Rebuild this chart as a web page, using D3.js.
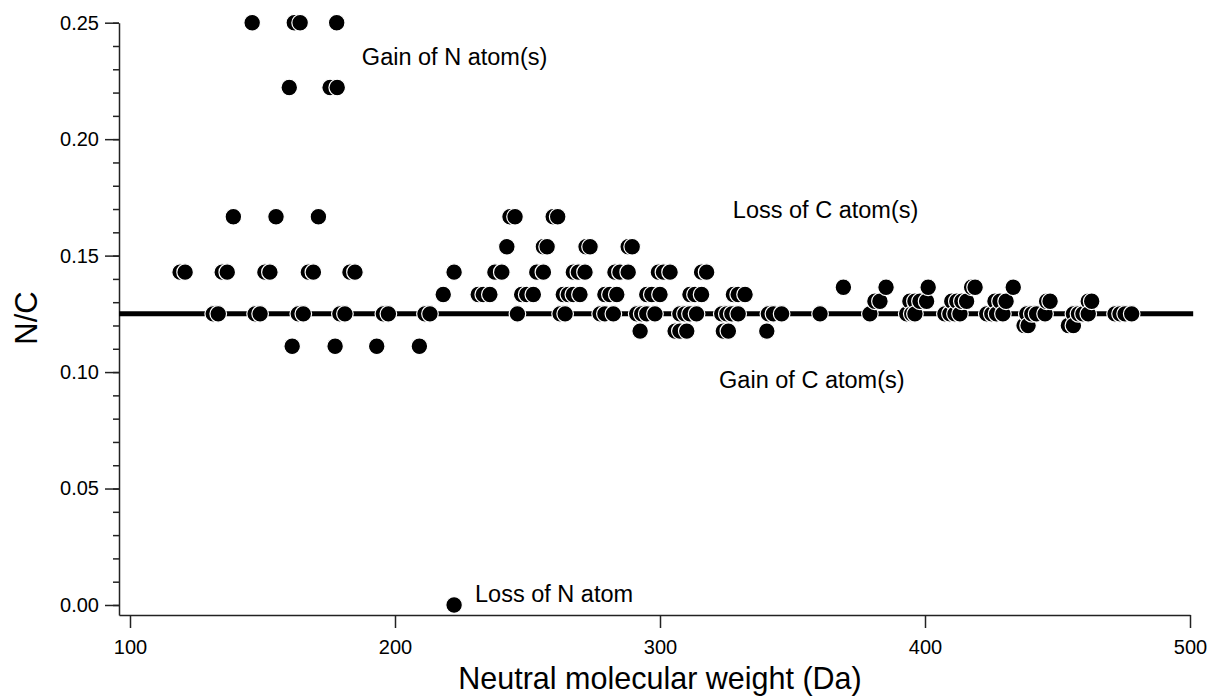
<!DOCTYPE html>
<html>
<head>
<meta charset="utf-8">
<script src="https://cdn.jsdelivr.net/npm/d3@7"></script>
<style>
  body { margin: 0; background: #fff; }
  svg text { font-family: "Liberation Sans", Arial, sans-serif; fill: #000; }
</style>
</head>
<body>
<svg id="chart"></svg>
<script>
// neutral molecular weights (Da), grouped by N/C ratio
const nc = [0.25, 0.2222, 0.1667, 0.1538, 0.1429, 0.1364, 0.1333, 0.1304, 0.125, 0.12, 0.1176, 0.1111, 0];

const mw_0250 = [146.1, 162.0, 164.2, 178.0];
const mw_0222 = [160.1, 175.5, 178.2];
const mw_0167 = [139.0, 155.1, 171.1, 243.4, 245.3, 259.7, 261.4];
const mw_0154 = [242.2, 256.0, 257.4, 272.1, 273.6, 288.0, 289.5];
const mw_0143 = [118.9, 120.8, 134.8, 136.7, 150.9, 152.8, 167.3, 169.2, 183.0, 184.9, 222.3, 237.7, 240.3,
  253.5, 256.0, 267.3, 269.2, 271.7, 283.0, 284.9, 288.0, 299.4, 301.3, 303.8, 315.7, 317.6];
const mw_0136 = [369.2, 385.3, 401.2, 417.6, 418.9, 433.3];
const mw_0133 = [218.2, 231.4, 233.3, 235.8, 247.8, 249.7, 252.2, 263.5, 265.4, 267.3, 269.8, 279.2, 281.1,
  283.7, 295.0, 296.9, 300.0, 311.3, 313.2, 315.7, 327.7, 329.5, 332.1];
const mw_0130 = [381.1, 383.0, 394.3, 396.2, 398.1, 400.6, 410.1, 412.0, 413.9, 415.7, 426.4, 428.3, 430.6,
  445.9, 447.2, 461.6, 462.9];
const mw_0125 = [131.4, 133.3, 147.2, 149.1, 163.5, 165.4, 179.2, 181.1, 195.6, 197.5, 211.3, 213.2, 246.2,
  262.3, 264.2, 277.4, 279.2, 282.4, 291.2, 293.1, 295.0, 298.1, 307.5, 309.4, 311.3, 313.8, 323.3, 325.2,
  327.1, 329.5, 340.9, 342.8, 345.9, 360.4, 379.2, 393.1, 395.0, 396.2, 407.5, 409.4, 411.3, 413.2, 423.3,
  425.2, 427.0, 429.4, 438.4, 440.3, 442.1, 445.3, 456.0, 457.9, 459.6, 461.6, 471.7, 473.6, 475.5, 478.0];
const mw_0120 = [437.4, 438.9, 454.1, 456.0];
const mw_0118 = [292.5, 305.7, 307.5, 310.1, 323.9, 325.8, 340.3];
const mw_0111 = [161.2, 177.4, 193.1, 209.2];
const mw_0000 = [222.3];

const referenceNC = 0.125;

const xTicks = [100, 200, 300, 400, 500];
const yTicks = [0, 0.05, 0.10, 0.15, 0.20, 0.25];
const yMinorTicks = d3.range(0, 26).map(i => i / 100);

const annotations = [
  { text: "Gain of N atom(s)", x: 187.5, y: 0.2319 },
  { text: "Loss of C atom(s)", x: 327.5, y: 0.1662 },
  { text: "Gain of C atom(s)", x: 322.3, y: 0.0932 },
  { text: "Loss of N atom", x: 230.2, y: 0.0013 }
];

const groups = [mw_0250, mw_0222, mw_0167, mw_0154, mw_0143, mw_0136, mw_0133,
  mw_0130, mw_0125, mw_0120, mw_0118, mw_0111, mw_0000];

const points = [];
groups.forEach((arr, i) => arr.forEach(w => points.push({ mw: w, nc: nc[i] })));
points.sort((a, b) => a.mw - b.mw);

const width = 1211, height = 696;
const svg = d3.select("#chart")
  .attr("width", width)
  .attr("height", height);

const xScale = d3.scaleLinear().domain([95.85, 500]).range([119, 1190]);
const yScale = d3.scaleLinear().domain([-0.0043, 0.25]).range([615, 22.7]);

// axes
svg.append("g")
  .attr("transform", `translate(0,${yScale.range()[0]})`)
  .call(d3.axisBottom(xScale).tickValues(xTicks).tickSize(13).tickSizeOuter(0).tickPadding(12)
    .tickFormat(d3.format("d")));

svg.append("g")
  .attr("transform", `translate(${xScale.range()[0]},0)`)
  .call(d3.axisLeft(yScale).tickValues(yTicks).tickSize(14).tickSizeOuter(0).tickPadding(6)
    .tickFormat(d3.format(".2f")));

svg.append("g")
  .attr("transform", `translate(${xScale.range()[0]},0)`)
  .call(d3.axisLeft(yScale).tickValues(yMinorTicks).tickSize(6).tickSizeOuter(0).tickFormat(""))
  .select(".domain").remove();

svg.selectAll(".tick line, .domain").attr("stroke", "#222").attr("stroke-width", 1.5);
svg.selectAll(".tick text").attr("font-size", 20).attr("font-family", "Liberation Sans, Arial, sans-serif");

// reference line
svg.append("line")
  .attr("x1", xScale.range()[0])
  .attr("x2", xScale(501.2))
  .attr("y1", yScale(referenceNC))
  .attr("y2", yScale(referenceNC))
  .attr("stroke", "#000")
  .attr("stroke-width", 5);

svg.append("g")
  .selectAll("circle")
  .data(points)
  .enter().append("circle")
  .attr("cx", d => xScale(d.mw))
  .attr("cy", d => yScale(d.nc))
  .attr("r", 8.3)
  .attr("fill", "#000")
  .attr("stroke", "#fff")
  .attr("stroke-width", 1.2);

svg.append("g")
  .selectAll("text")
  .data(annotations)
  .enter().append("text")
  .attr("x", d => xScale(d.x))
  .attr("y", d => yScale(d.y))
  .attr("font-size", 23.5)
  .text(d => d.text);

svg.append("text")
  .attr("x", 660)
  .attr("y", 689)
  .attr("text-anchor", "middle")
  .attr("font-size", 30.5)
  .text("Neutral molecular weight (Da)");

svg.append("text")
  .attr("transform", "translate(37,318) rotate(-90)")
  .attr("text-anchor", "middle")
  .attr("font-size", 31)
  .text("N/C");
</script>
</body>
</html>
